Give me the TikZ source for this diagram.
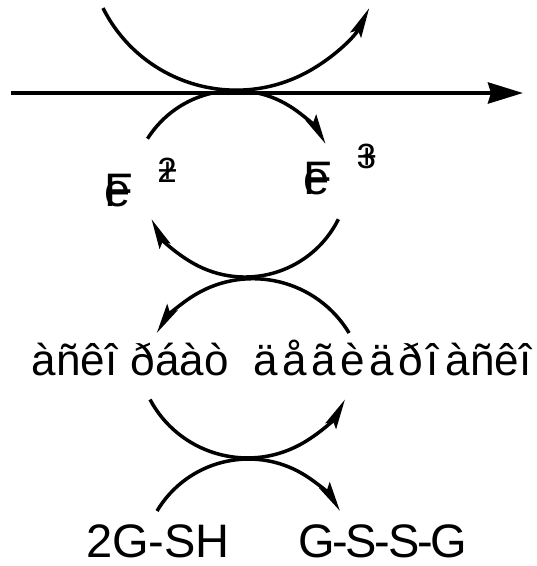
\documentclass[tikz,border=0pt]{standalone}
\usepackage{fontspec}
\setmainfont{Liberation Sans}
\usetikzlibrary{arrows.meta, positioning}
\definecolor{colInk}{RGB}{0,0,0}
\tikzset{
  specnode/.style={
    inner sep=0pt, anchor=base west, text=colInk,
    font=\fontsize{47}{56}\selectfont
  },
  rowlbl/.style={
    inner sep=0pt, anchor=base west, text=colInk,
    font=\fontsize{44}{52}\selectfont
  },
  rxnarc/.style={
    -{Stealth[length=30pt,width=12pt,inset=5pt]},
    line width=3.5pt, color=colInk
  },
  mainarrow/.style={
    -{Stealth[length=35pt,width=21pt,inset=3pt]},
    line width=4pt, color=colInk
  },
}
\newcommand{\ovstrike}[2]{\rlap{#1}#2}
\newcommand{\supsz}{\fontsize{35}{42}\selectfont}

\begin{document}
\begin{tikzpicture}[x=1pt, y=-1pt]
\useasboundingbox (0,0) rectangle (537,566);

%% ══════════════════════════════════════════════════════════════
%%  MAIN ARROW  (left → right)
%% ══════════════════════════════════════════════════════════════
\coordinate (mtail) at (11,93);
\coordinate (mhead) at (523,93);
\draw[mainarrow] (mtail) -- (mhead);

%% ══════════════════════════════════════════════════════════════
%%  SPECIES
%% ══════════════════════════════════════════════════════════════
\node[specnode] (fe2) at (104,206)
  {\ovstrike{F}{e}\hspace{27pt}\raisebox{24pt}{\supsz\ovstrike{2}{+}}};
\node[specnode] (fe3) at (303,194)
  {\ovstrike{F}{e}\hspace{27.4pt}\raisebox{26pt}{\supsz\ovstrike{3}{+}}};

\node[rowlbl] (asc1) at (31.5,375) {àñêî};
\node[rowlbl] (asc2) at (130.5,375) {ðáàò};
\node[rowlbl] (dha1) at (253.5,375) {\addfontfeature{LetterSpace=10}äåãèäðî};
\node[rowlbl] (dha2) at (445.5,375) {àñêî};

\node[specnode] (gsh)  at (86,557)  {2G-SH};
\node[specnode] (gssg) at (298,557) {\addfontfeature{LetterSpace=-5}G-S-S-G};

%% ══════════════════════════════════════════════════════════════
%%  COUPLED ARCS
%% ══════════════════════════════════════════════════════════════
% pair 1: across the main arrow
\coordinate (p1a) at (103.0,8.1);
\coordinate (p1b) at (147.5,138.7);
\draw[rxnarc] (p1a) arc[start angle=153.3, end angle=26.7, radius=149];
\draw[rxnarc] (p1b) arc[start angle=212.3, end angle=331, radius=103.5];

% pair 2: iron ↔ ascorbate
\coordinate (p2a) at (338.4,219.2);
\coordinate (p2b) at (349.1,333.0);
\draw[rxnarc] (p2a) arc[start angle=26.5, end angle=153.5, radius=104.4];
\draw[rxnarc] (p2b) arc[start angle=328.9, end angle=211.1, radius=112.3];

% pair 3: ascorbate ↔ glutathione
\coordinate (p3a) at (150.0,399.5);
\coordinate (p3b) at (157.0,511.0);
\draw[rxnarc] (p3a) arc[start angle=151.9, end angle=28.1, radius=110.5];
\draw[rxnarc] (p3b) arc[start angle=210.8, end angle=329.2, radius=106.5];

\end{tikzpicture}
\end{document}
